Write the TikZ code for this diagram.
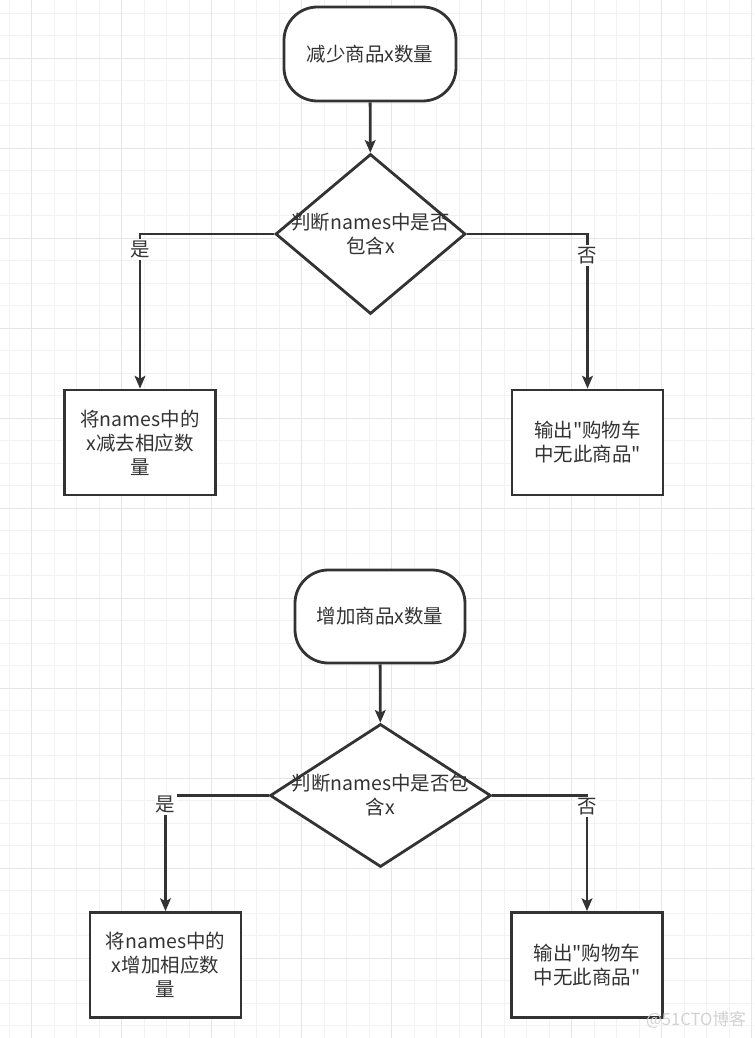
\documentclass[tikz,border=0pt]{standalone}
\usepackage{fontspec}
\setmainfont{Noto Sans CJK SC}[Ligatures=TeXOff]
\usepackage{tikz}
\usetikzlibrary{shapes.geometric,arrows.meta}
\definecolor{FCInk}{HTML}{333333}
\definecolor{FCGridMinor}{HTML}{F2F2F2}
\definecolor{FCGridMajor}{HTML}{E6E6E6}
\definecolor{FCMark}{HTML}{D2D2D2}

\begin{document}
\begin{tikzpicture}[x=0.75pt,y=-0.75pt,
  every node/.style={text=FCInk,font=\fontsize{14.6pt}{18pt}\selectfont},
  terminal/.style={draw=FCInk,line width=2.1pt,fill=white,rounded corners=25pt,inner sep=0pt},
  decision/.style={diamond,draw=FCInk,line width=2.1pt,fill=white,inner sep=0pt},
  action/.style={rectangle,draw=FCInk,line width=2.1pt,fill=white,inner sep=0pt,
    minimum width=113.25pt,minimum height=78.75pt,align=center},
  branch/.style={fill=white,inner sep=1.5pt},
  flow/.style={draw=FCInk,line width=2.1pt,-{Stealth[length=9.5pt,width=8pt,inset=2pt]}}]
\path[use as bounding box] (0,0) rectangle (754,1038);
\fill[white] (0,0) rectangle (754,1038);
% grid
\foreach \k in {0,...,33}
  \draw[FCGridMinor,line width=.75pt] ({9+22.5*\k},0) -- ({9+22.5*\k},1038);
\foreach \k in {0,...,45}
  \draw[FCGridMinor,line width=.75pt] (0,{13.3+22.5*\k}) -- (754,{13.3+22.5*\k});
\foreach \k in {0,...,8}
  \draw[FCGridMajor,line width=.75pt] ({31.5+90*\k},0) -- ({31.5+90*\k},1038);
\foreach \k in {0,...,10}
  \draw[FCGridMajor,line width=.75pt] (0,{58.3+90*\k}) -- (754,{58.3+90*\k});

% decrease
\node[terminal,minimum width=129pt,minimum height=70.5pt] (term1) at (370,54) {减少商品x数量};
\node[decision,minimum width=142.5pt,minimum height=120pt,
  label={[align=center]center:判断names中是否\\包含x}] (dec1) at (370.5,234) {};
\node[action] (box1) at (140,442.5) {将names中的\\x减去相应数\\量};
\node[action] (box2) at (587.5,442.5) {输出"购物车\\中无此商品"};
\draw[flow] (term1) -- (dec1);
\draw[flow] (dec1.west) -| node[branch,pos=0.55] {是} (box1.north);
\draw[flow] (dec1.east) -| node[branch,pos=0.57] {否} (box2.north);

% increase
\node[terminal,minimum width=127.5pt,minimum height=69.75pt] (term2) at (380,616.5) {增加商品x数量};
\node[decision,minimum width=165.75pt,minimum height=107.25pt,
  label={[align=center]center:判断names中是否包\\含x}] (dec2) at (380.5,795.5) {};
\node[action] (box3) at (165.5,965) {将names中的\\x增加相应数\\量};
\node[action] (box4) at (587,965) {输出"购物车\\中无此商品"};
\draw[flow] (term2) -- (dec2);
\draw[flow] (dec2.west) -| node[branch,pos=0.54] {是} (box3.north);
\draw[flow] (dec2.east) -| node[branch,pos=0.55] {否} (box4.north);

\node[text=FCMark,font=\fontsize{12.5pt}{14pt}\selectfont] (wmark) at (696,1020) {@51CTO博客};
\end{tikzpicture}
\end{document}
